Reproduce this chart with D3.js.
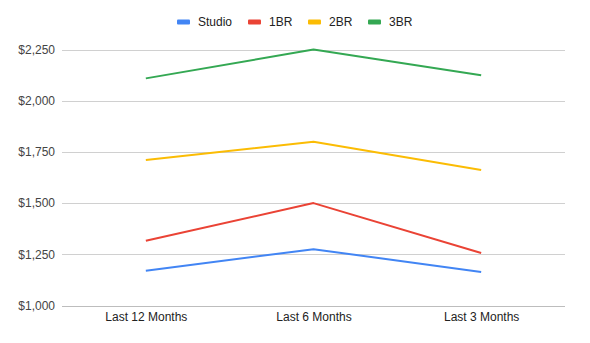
<!DOCTYPE html>
<html>
<head>
<meta charset="utf-8">
<script src="https://cdn.jsdelivr.net/npm/d3@7/dist/d3.min.js"></script>
<style>
  html, body { margin: 0; padding: 0; background: #fff; }
  svg { display: block; font-family: Arial, "Liberation Sans", sans-serif; }
</style>
</head>
<body>
<svg id="chart" width="590" height="343"></svg>
<script>
// Average rent by unit type over three look-back windows
const periods = ["Last 12 Months", "Last 6 Months", "Last 3 Months"];
const seriesNames = ["Studio", "1BR", "2BR", "3BR"];
const seriesColors = ["#4285F4", "#EA4335", "#FBBC04", "#34A853"];
const studio = [1170, 1275, 1164];
const oneBR = [1316, 1500, 1256];
const twoBR = [1710, 1800, 1662];
const threeBR = [2109, 2250, 2124];
const yTicks = [1000, 1250, 1500, 1750, 2000, 2250];

const seriesValues = [studio, oneBR, twoBR, threeBR];

const svg = d3.select("#chart");
const margin = { left: 62, right: 25, top: 49.5, bottom: 37.5 };
const W = 590, H = 343;

const x = d3.scalePoint()
  .domain(periods)
  .range([margin.left, W - margin.right])
  .padding(0.5);

const y = d3.scaleLinear()
  .domain([1000, 2250])
  .range([H - margin.bottom, margin.top]);

// gridlines
svg.append("g")
  .selectAll("line")
  .data(yTicks)
  .join("line")
  .attr("x1", margin.left)
  .attr("x2", W - margin.right)
  .attr("y1", d => Math.round(y(d)) + 0.5)
  .attr("y2", d => Math.round(y(d)) + 0.5)
  .attr("stroke", d => d === 1000 ? "#bdbdbd" : "#d0d0d0")
  .attr("stroke-width", 1);

// y axis labels
const fmt = d3.format("$,");
const yAxis = d3.axisLeft(y).tickValues(yTicks).tickFormat(fmt).tickSize(0).tickPadding(7);
const gy = svg.append("g")
  .attr("transform", `translate(${margin.left},0)`)
  .call(yAxis);
gy.select(".domain").remove();
gy.selectAll("text")
  .attr("fill", "#444")
  .attr("font-size", 12)
  .attr("font-family", "Arial, 'Liberation Sans', sans-serif");

// x axis labels
const xAxis = d3.axisBottom(x).tickSize(0).tickPadding(7);
const gx = svg.append("g")
  .attr("transform", `translate(0,${H - margin.bottom})`)
  .call(xAxis);
gx.select(".domain").remove();
gx.selectAll("text")
  .attr("fill", "#222")
  .attr("font-size", 12)
  .attr("font-family", "Arial, 'Liberation Sans', sans-serif");

// lines
const line = d3.line()
  .x((d, i) => x(periods[i]))
  .y(d => y(d));

svg.append("g")
  .selectAll("path")
  .data(seriesValues)
  .join("path")
  .attr("d", d => line(d))
  .attr("fill", "none")
  .attr("stroke", (d, i) => seriesColors[i])
  .attr("stroke-width", 2)
  .attr("stroke-linejoin", "round");

// legend
const legendX = [177, 248, 308, 368];
const legend = svg.append("g").attr("transform", "translate(0,22)");
const items = legend.selectAll("g")
  .data(seriesNames)
  .join("g")
  .attr("transform", (d, i) => `translate(${legendX[i]},0)`);
items.append("rect")
  .attr("x", 0).attr("y", -2.5)
  .attr("width", 13).attr("height", 5)
  .attr("rx", 1)
  .attr("fill", (d, i) => seriesColors[i]);
items.append("text")
  .attr("x", 21).attr("y", 0)
  .attr("dy", "0.35em")
  .attr("font-size", 12)
  .attr("fill", "#222")
  .text(d => d);
</script>
</body>
</html>
